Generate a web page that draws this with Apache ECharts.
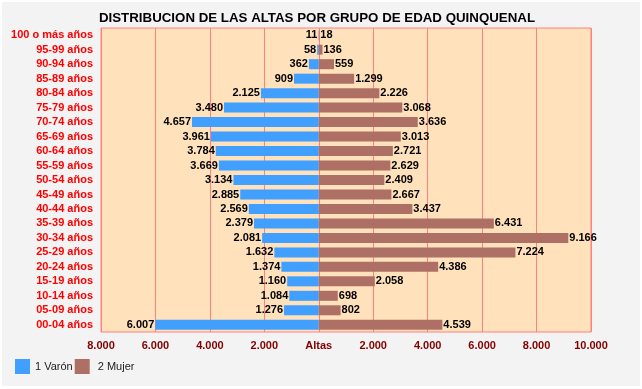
<!DOCTYPE html>
<html><head><meta charset="utf-8">
<script src="https://cdn.jsdelivr.net/npm/echarts@6/dist/echarts.min.js"></script>
<style>html,body{margin:0;padding:0;background:#fff}#c{width:642px;height:389px}</style>
</head><body><div id="c"></div>
<script>
// bottom to top
const categories = ["00-04 años","05-09 años","10-14 años","15-19 años","20-24 años","25-29 años","30-34 años","35-39 años","40-44 años","45-49 años","50-54 años","55-59 años","60-64 años","65-69 años","70-74 años","75-79 años","80-84 años","85-89 años","90-94 años","95-99 años","100 o más años"];
const varon = [6007,1276,1084,1160,1374,1632,2081,2379,2569,2885,3134,3669,3784,3961,4657,3480,2125,909,362,58,11];
const mujer = [4539,802,698,2058,4386,7224,9166,6431,3437,2667,2409,2629,2721,3013,3636,3068,2226,1299,559,136,18];
const seriesNames = ["1 Varón","2 Mujer"];
const titleText = "DISTRIBUCION DE LAS ALTAS POR GRUPO DE EDAD QUINQUENAL";
const centerLabel = "Altas";

function fmt(v){ v=Math.abs(Math.round(v)); return String(v).replace(/\B(?=(\d{3})+(?!\d))/g,'.'); }
const FONT = '"Liberation Sans", Arial, sans-serif';
const chart = echarts.init(document.getElementById('c'), null, {renderer:'canvas'});
chart.setOption({
  animation:false,
  backgroundColor:'#fff',
  graphic:[{type:'rect',left:2,top:2,shape:{width:638,height:384},style:{fill:'#f3f3f3'},z:-10}],
  title:{text:titleText,left:317,top:12,textAlign:'center',padding:0,
    textStyle:{fontFamily:FONT,fontSize:13.3,fontWeight:'bold',color:'#000'}},
  legend:{left:15,top:359,padding:0,itemWidth:15,itemHeight:15,itemGap:2,icon:'rect',
    formatter:n=>n===seriesNames[1]?' '+n:n,
    textStyle:{fontFamily:FONT,fontSize:11,color:'#222',padding:[0,0,0,0]},data:seriesNames},
  grid:{left:101,right:51,top:28,bottom:57,show:true,backgroundColor:'#ffe1bb',borderColor:'#ff8080',borderWidth:1},
  xAxis:{type:'value',min:-8000,max:10000,interval:2000,
    axisLine:{show:false},axisTick:{show:false},
    splitLine:{show:true,lineStyle:{color:'#ff8080',width:1}},
    axisLabel:{formatter:v=>v===0?centerLabel:fmt(v),fontFamily:FONT,fontSize:11,fontWeight:'bold',color:'#800000',margin:8}},
  yAxis:{type:'category',data:categories,axisLine:{show:false},axisTick:{show:false},
    axisLabel:{fontFamily:FONT,fontSize:11,fontWeight:'bold',color:'#ff0000',margin:8,interval:0}},
  series:[
    {name:seriesNames[0],type:'bar',data:varon.map(v=>-v),barWidth:10,barGap:'-100%',
     itemStyle:{color:'#409fff'},
     label:{show:true,position:'left',distance:1,formatter:p=>fmt(p.value),fontFamily:FONT,fontSize:11,fontWeight:'bold',color:'#000'}},
    {name:seriesNames[1],type:'bar',data:mujer,barWidth:10,barGap:'-100%',
     itemStyle:{color:'#ae7065'},
     label:{show:true,position:'right',distance:1,formatter:p=>fmt(p.value),fontFamily:FONT,fontSize:11,fontWeight:'bold',color:'#000'}}
  ]
});
</script></body></html>
